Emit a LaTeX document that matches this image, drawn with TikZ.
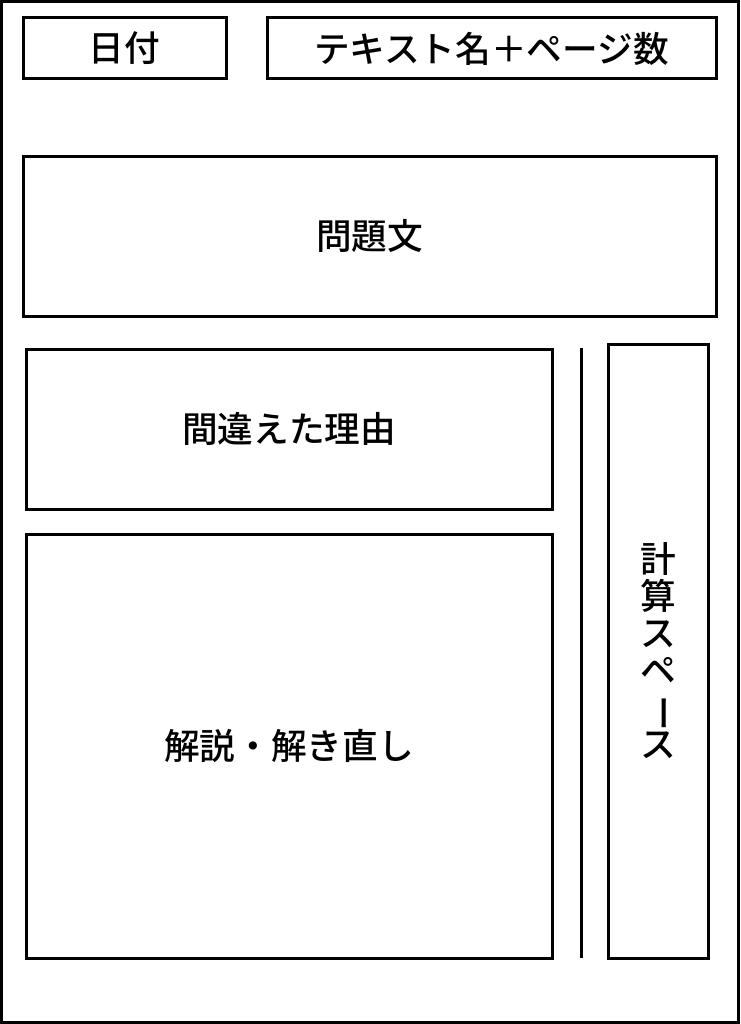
\documentclass[tikz,border=0pt]{standalone}
\usepackage{fontspec}
\newfontfamily\cjk{Noto Sans CJK JP}[BoldFont={Noto Sans CJK JP Medium}]

\begin{document}
\begin{tikzpicture}[x=0.75pt, y=-0.75pt]
                            \tikzset{frame/.style={draw, line width=2.25pt},
                                     field/.style={frame, shape=rectangle, inner sep=0pt,
                                                   font=\cjk\bfseries\fontsize{26.75}{28}\selectfont}}
                            \useasboundingbox (0, 0) rectangle (740, 1024);
                            \draw[frame] (1.5, 1.5) rectangle (738.5, 1022.5);

                            \node[field, minimum width=152.25pt, minimum height=45.75pt] (date) at (124.5, 48.5){日付};
                            \node[field, minimum width=336.75pt, minimum height=45.75pt] (text) at (491.5, 48.5){テキスト名＋ページ数};
                            \node[field, minimum width=519.75pt, minimum height=120pt] (problem) at (369.5, 236){問題文};
                            \node[field, minimum width=394.5pt, minimum height=120pt] (reason) at (289, 429){間違えた理由};
                            \node[field, minimum width=394.5pt, minimum height=318pt] (answer) at (289, 746){解説・解き直し};
                            \node[field, minimum width=75pt, minimum height=460.5pt, align=center,
                                  font=\cjk\bfseries\fontsize{26.75}{27.75}\selectfont] (calc) at (658, 651)
                                {計\\算\\ス\\ペ\\\rotatebox[origin=c]{-90}{ー}\\ス};

                            \coordinate (sepTop) at (581, 348);
                            \coordinate (sepBot) at (581, 958);
                            \draw[frame] (sepTop) -- (sepBot);
                        \end{tikzpicture}
\end{document}
